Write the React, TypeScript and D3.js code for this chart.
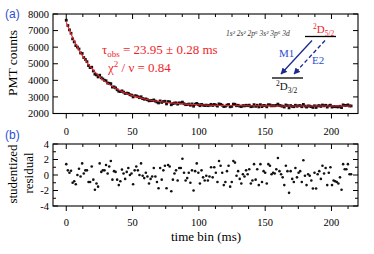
import React from "react";
import * as d3 from "d3";

// time bin width (ms) of the recorded decay
const binWidth = 1.2;

// PMT counts per bin
const counts = [
  7622, 7304, 7043, 6840, 6501, 6316, 6093, 6005, 5892, 5651,
  5620, 5374, 5260, 5125, 4890, 4768, 4790, 4563, 4371, 4325,
  4205, 4309, 4152, 4082, 4004, 3973, 3834, 3822, 3800, 3594,
  3602, 3542, 3430, 3340, 3323, 3364, 3292, 3212, 3225, 3216,
  3130, 3108, 2999, 3068, 3066, 3012, 2953, 3010, 2900, 2862,
  2878, 2831, 2765, 2778, 2776, 2818, 2745, 2693, 2637, 2759,
  2668, 2718, 2738, 2577, 2721, 2701, 2527, 2595, 2627, 2640,
  2565, 2640, 2633, 2687, 2589, 2532, 2542, 2571, 2500, 2576,
  2441, 2562, 2608, 2544, 2470, 2551, 2503, 2479, 2506, 2473,
  2495, 2552, 2485, 2547, 2510, 2448, 2581, 2549, 2502, 2420,
  2438, 2507, 2540, 2404, 2432, 2566, 2555, 2468, 2497, 2446,
  2415, 2474, 2458, 2497, 2471, 2502, 2410, 2429, 2533, 2432,
  2499, 2397, 2531, 2415, 2485, 2474, 2404, 2528, 2518, 2462,
  2472, 2467, 2493, 2566, 2481, 2460, 2440, 2391, 2514, 2479,
  2340, 2479, 2429, 2408, 2498, 2438, 2468, 2478, 2408, 2547,
  2447, 2387, 2457, 2447, 2417, 2364, 2466, 2364, 2456, 2476,
  2426, 2511, 2461, 2496, 2386, 2466, 2501, 2386, 2416, 2411,
  2406, 2396, 2436, 2356, 2521, 2488, 2488, 2520, 2455, 2455,
];

// studentized residuals
const residuals = [
  1.4, 0.6, 0.3, 0.55, -1.0, -0.8, -1.2, 0, 0.8, -0.2,
  1.5, 0.2, 0.6, 0.6, -0.9, -0.9, 1.1, -0.6, -1.9, -1.1,
  -1.5, 1.5, 0.4, 0.6, 0.6, 1.3, 0.2, 1.1, 1.8, -0.6,
  0.5, 0.4, -0.6, -1.3, -0.8, 0.7, 0.2, -0.5, 0.4, 0.9,
  0, 0.2, -1.2, 0.6, 1.1, 0.6, 0, 1.5, -0.1, -0.4,
  0.3, -0.2, -1.1, -0.5, -0.2, 0.9, -0.2, -0.9, -1.7, 0.9,
  -0.6, 0.6, 1.2, -1.7, 1.3, 1.1, -2.1, -0.6, 0.2, 0.6,
  -0.7, 0.9, 0.9, 2.1, 0.3, -0.7, -0.4, 0.3, -1.0, 0.6,
  -2.0, 0.5, 1.5, 0.3, -1.1, 0.6, -0.3, -0.7, -0.1, -0.7,
  -0.2, 1.0, -0.3, 1.0, 0.3, -0.9, 1.8, 1.2, 0.3, -1.3,
  -0.9, 0.5, 1.2, -1.5, -0.9, 1.8, 1.6, -0.1, 0.5, -0.5,
  -1.1, 0.1, -0.2, 0.6, 0.1, 0.75, -1.1, -0.7, 1.4, -0.6,
  0.75, -1.3, 1.4, -0.9, 0.5, 0.3, -1.1, 1.4, 1.2, 0.1,
  0.3, 0.2, 0.75, 2.2, 0.5, 0.1, -0.3, -1.3, 1.2, 0.5,
  -2.3, 0.5, -0.5, -0.9, 0.9, -0.3, 0.3, 0.5, -0.9, 1.9,
  -0.1, -1.3, 0.1, -0.1, -0.7, -1.75, 0.3, -1.75, 0.1, 0.5,
  -0.5, 1.2, 0.2, 0.9, -1.3, 0.3, 1.0, -1.3, -0.7, -0.8,
  -0.9, -1.1, -0.3, -1.9, 1.4, 0.75, 0.75, 1.4, 0.1, 0.1,
];

// exponential fit (red line), sampled
const fitTimes = [0, 5, 10, 15, 20, 25, 30, 35, 40, 45, 50, 60, 70, 80, 90, 100, 120, 140, 160, 180, 215];
const fitCounts = [7500, 6549, 5776, 5150, 4641, 4228, 3894, 3622, 3401, 3222, 3077, 2863, 2722, 2629, 2568, 2528, 2484, 2465, 2456, 2453, 2450];

const xTicks = [0, 50, 100, 150, 200];
const xMinorTicks = d3.range(0, 220, 12.5);
const yTicksA = [2000, 3000, 4000, 5000, 6000, 7000, 8000];
const yTicksB = [-4, -2, 0, 2, 4];
const yMinorB = [-3, -1, 1, 3];

const serif = "'Liberation Serif', 'Times New Roman', serif";
const sans = "'Liberation Sans', Arial, sans-serif";

const Frame = ({ x, y, yMajor, yMinor, xLabels, labelY }) => {
  const [x0, x1] = x.range();
  const [y1, y0] = y.range();
  const ln = (k, a, b, c, d) => (
    <line key={k} x1={a} y1={b} x2={c} y2={d} stroke="#000" strokeWidth={1} />
  );
  return (
    <g>
      <rect x={x0} y={y0} width={x1 - x0} height={y1 - y0} fill="none" stroke="#000" strokeWidth={1.1} />
      {xMinorTicks.map((t, i) => {
        const big = xTicks.includes(t);
        const px = x(t);
        return (
          <g key={"xt" + i}>
            {ln("t", px, y0, px, y0 + (big ? 5 : 3))}
            {ln("b", px, y1, px, y1 + (big ? 5 : 3))}
          </g>
        );
      })}
      {yMajor.map((v, i) => (
        <g key={"ym" + i}>
          {ln("l", x0, y(v), x0 + 5, y(v))}
          {ln("r", x1, y(v), x1 - 5, y(v))}
        </g>
      ))}
      {yMinor.map((v, i) => (
        <g key={"yn" + i}>
          {ln("l", x0, y(v), x0 + 3, y(v))}
          {ln("r", x1, y(v), x1 - 3, y(v))}
        </g>
      ))}
      {yMajor.map((v, i) => (
        <text key={"yl" + i} x={x0 - 4} y={y(v)} dy="0.35em" textAnchor="end" fontSize={10.5} fontFamily={serif}>
          {v}
        </text>
      ))}
      {xLabels &&
        xTicks.map((t, i) => (
          <text key={"xl" + i} x={x(t)} y={labelY} dy="0.35em" textAnchor="middle" fontSize={10.5} fontFamily={serif}>
            {t}
          </text>
        ))}
    </g>
  );
};

export default function App() {
  const W = 374;
  const H = 254;
  const x = d3.scaleLinear().domain([-10, 220]).range([53, 358]);
  const yA = d3.scaleLinear().domain([2000, 8000]).range([113.5, 14]);
  const yB = d3.scaleLinear().domain([-4, 4]).range([206, 144]);
  const times = counts.map((_, i) => i * binWidth);

  const fitLine = d3
    .line()
    .x((d) => x(d[0]))
    .y((d) => yA(d[1]))
    .curve(d3.curveMonotoneX)(fitTimes.map((t, i) => [t, fitCounts[i]]));

  const arrowBlue = "#1b2a8f";
  const textBlue = "#2c4fd0";
  const red = "#f01e28";

  return (
    <svg width={W} height={H} style={{ position: "absolute", left: 0, top: 0, background: "#fff" }}>
      <defs>
        <marker id="ah" viewBox="0 0 10 10" refX="9" refY="5" markerWidth="5" markerHeight="5" orient="auto">
          <path d="M0,0 L10,5 L0,10 z" fill={arrowBlue} />
        </marker>
      </defs>

      {/* panel (a) */}
      <Frame x={x} y={yA} yMajor={yTicksA} yMinor={[]} xLabels labelY={131} />
      {counts.map((c, i) => (
        <rect key={"p" + i} x={x(times[i]) - 1.4} y={yA(c) - 1.4} width={2.8} height={2.8} fill="#111" />
      ))}
      <path d={fitLine} fill="none" stroke={red} strokeWidth={1.1} />

      <text x={5} y={14} dy="0.35em" fontSize={12} fontFamily={sans} fill={textBlue}>(a)</text>
      <text transform="translate(17,63) rotate(-90)" textAnchor="middle" fontSize={13.5} fontFamily={serif}>
        PMT counts
      </text>

      <text x={102} y={54} fontSize={13} fontFamily={serif} fill={red}>
        τ<tspan fontSize={9} dy={3}>obs</tspan>
        <tspan dy={-3}> = 23.95 ± 0.28 ms</tspan>
      </text>
      <text x={108} y={72} fontSize={13} fontFamily={serif} fill={red}>
        χ<tspan fontSize={9} dy={-5}>2</tspan>
        <tspan dy={5}> / ν = 0.84</tspan>
      </text>

      {/* level scheme */}
      <text x={226} y={36} fontSize={7.5} fontStyle="italic" fontFamily={serif} fill="#333">
        1s² 2s² 2p⁶ 3s² 3p⁶  3d
      </text>
      <line x1={305} y1={36.5} x2={336} y2={36.5} stroke="#000" strokeWidth={1.3} />
      <line x1={272} y1={78} x2={303} y2={78} stroke="#000" strokeWidth={1.3} />
      <text x={313} y={33} fontSize={11} fontFamily={serif} fill={red}>
        <tspan fontSize={7.5} dy={-4}>2</tspan>
        <tspan dy={4}>D</tspan>
        <tspan fontSize={7.5} dy={3}>5/2</tspan>
      </text>
      <text x={276} y={90} fontSize={11} fontFamily={serif} fill="#111">
        <tspan fontSize={7.5} dy={-4}>2</tspan>
        <tspan dy={4}>D</tspan>
        <tspan fontSize={7.5} dy={3}>3/2</tspan>
      </text>
      <line x1={312} y1={40.5} x2={281} y2={74} stroke={arrowBlue} strokeWidth={1.3} markerEnd="url(#ah)" />
      <line x1={325} y1={40.5} x2={294} y2={74} stroke={arrowBlue} strokeWidth={1.3} strokeDasharray="4,2.5" markerEnd="url(#ah)" />
      <text x={279} y={57} fontSize={11} fontFamily={serif} fill={textBlue}>M1</text>
      <text x={312} y={64} fontSize={11} fontFamily={serif} fill={textBlue}>E2</text>

      {/* panel (b) */}
      <Frame x={x} y={yB} yMajor={yTicksB} yMinor={yMinorB} xLabels labelY={222} />
      {residuals.map((r, i) => (
        <circle key={"r" + i} cx={x(times[i])} cy={yB(r)} r={1.3} fill="#111" />
      ))}
      <text x={5} y={135} dy="0.35em" fontSize={12} fontFamily={sans} fill={textBlue}>(b)</text>
      <text transform="translate(17,174) rotate(-90)" textAnchor="middle" fontSize={13} fontFamily={serif}>
        studentized
      </text>
      <text transform="translate(33,173) rotate(-90)" textAnchor="middle" fontSize={13} fontFamily={serif}>
        residual
      </text>
      <text x={206} y={241} textAnchor="middle" fontSize={13} fontFamily={serif}>
        time bin (ms)
      </text>
    </svg>
  );
}
